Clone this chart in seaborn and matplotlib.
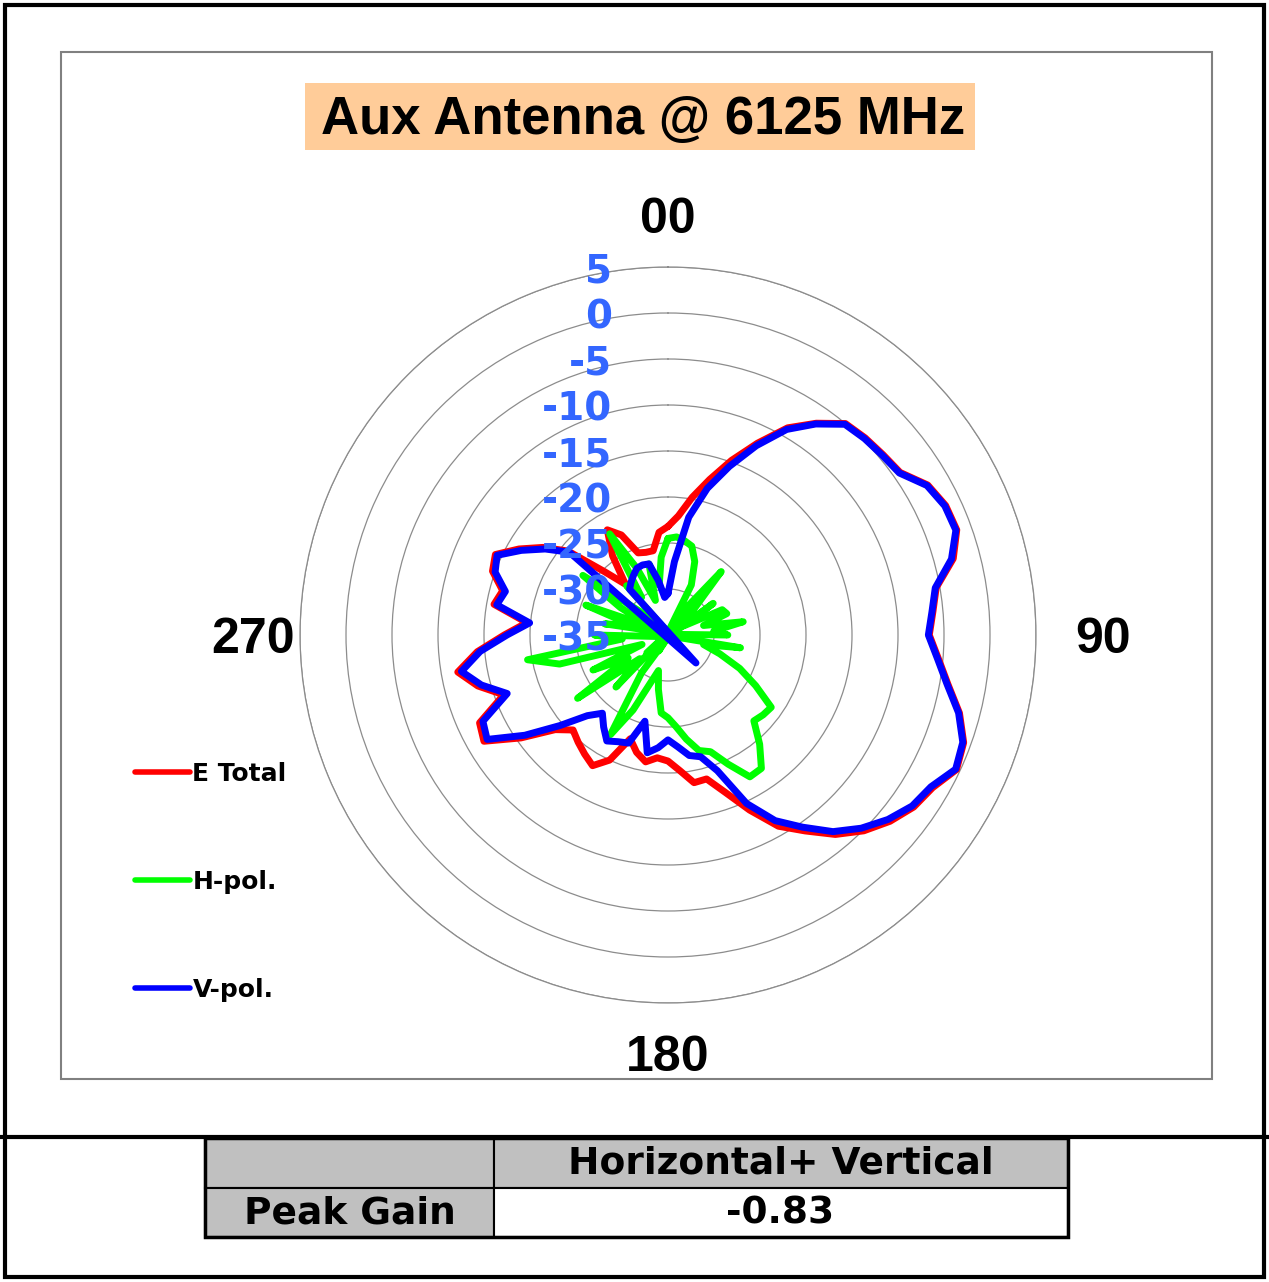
import numpy as np
import matplotlib
matplotlib.use("Agg")
import matplotlib.pyplot as plt
import seaborn as sns
from matplotlib.patches import Rectangle
from matplotlib.lines import Line2D

# -------------------------------
# data (dB, every 5 degrees, clockwise from top)
# -------------------------------
angles = list(range(0, 360, 5))

e_total = [-23.2, -22.0, -19.8, -17.5, -14.8, -12.0, -9.0, -6.9, -5.0, -4.7,
           -4.5, -4.2, -2.4, -1.7, -1.6, -2.9, -5.4, -6.1, -6.6, -5.5,
           -4.1, -2.2, -0.8, -0.4, -1.8, -2.4, -3.5, -4.9, -6.7, -9.0,
           -11.0, -14.0, -16.8, -18.8, -18.7, -20.2, -21.3, -21.6, -21.0, -21.8,
           -23.0, -20.0, -18.6, -19.2, -19.8, -20.4, -19.0, -15.5, -11.9, -12.4,
           -16.0, -13.6, -11.8, -14.2, -17.2, -19.6, -15.8, -16.4, -14.7, -14.3,
           -16.3, -18.4, -20.8, -25.3, -27.8, -24.5, -21.8, -23.0, -25.5, -25.7,
           -25.7, -23.8]

h_pol = [-24.5, -24.3, -24.6, -25.0, -26.5, -29.0, -37.0, -31.0, -26.0, -31.0,
         -38.0, -29.0, -33.0, -28.5, -28.2, -31.0, -26.7, -30.0, -28.5, -36.0,
         -27.0, -31.0, -29.0, -26.4, -24.0, -21.3, -21.5, -21.8, -19.5, -17.3,
         -17.2, -19.5, -21.5, -22.0, -23.5, -25.0, -26.0, -26.5, -29.0, -31.0,
         -29.5, -26.0, -22.5, -30.0, -37.0, -27.0, -31.0, -23.0, -30.0, -26.0,
         -32.0, -22.8, -19.5, -30.0, -27.0, -38.0, -28.0, -31.0, -25.5, -33.0,
         -29.0, -23.7, -31.0, -38.0, -28.0, -30.0, -22.3, -27.0, -31.0, -27.0,
         -29.5, -26.5]

v_pol = [-30.5, -27.0, -22.0, -18.5, -15.5, -12.3, -9.2, -7.0, -5.1, -4.8,
         -4.6, -4.3, -2.5, -1.8, -1.7, -3.1, -5.5, -6.2, -6.7, -5.6,
         -4.2, -2.3, -0.9, -0.5, -2.0, -2.6, -3.8, -5.3, -7.1, -9.5,
         -11.7, -14.8, -19.3, -21.3, -21.7, -22.8, -23.6, -22.7, -22.0, -25.3,
         -22.5, -22.2, -21.7, -22.8, -23.9, -22.6, -19.7, -16.0, -12.3, -12.8,
         -16.4, -14.0, -12.2, -14.5, -17.5, -19.9, -16.1, -16.7, -15.0, -14.5,
         -16.6, -18.7, -21.0, -39.3, -28.5, -28.0, -27.5, -27.0, -26.9, -27.0,
         -29.0, -30.9]

series_names = ["E Total", "H-pol.", "V-pol."]
series_colors = ["#FF0000", "#00FF00", "#0000FF"]

r_ticks = [5, 0, -5, -10, -15, -20, -25, -30, -35]
angle_ticks = [0, 90, 180, 270]
angle_labels = ["00", "90", "180", "270"]

title = "Aux Antenna @ 6125 MHz"
table_header = "Horizontal+ Vertical"
table_row = "Peak Gain"
peak_gain = "-0.83"

R_MIN, R_MAX = -35, 5

sns.set_theme(style="white")
plt.rcParams["font.family"] = ["DejaVu Sans"]
plt.rcParams["text.color"] = "black"

W, H = 1269, 1282
fig = plt.figure(figsize=(W / 100, H / 100), dpi=100)
fig.patch.set_facecolor("white")


def px(x, y):
    return x / W, 1 - y / H


def box(x0, y0, x1, y1, **kw):
    fig.add_artist(Rectangle(px(x0, y1), (x1 - x0) / W, (y1 - y0) / H,
                             transform=fig.transFigure, **kw))


def fold(ang, val):
    # excel radar: values under the axis minimum show up mirrored through the centre
    a = np.asarray(ang + [ang[0] + 360], float)
    v = np.asarray(val + [val[0]], float)
    low = v < R_MIN
    a = np.where(low, a + 180, a)
    v = np.where(low, 2 * R_MIN - v, v)
    return np.deg2rad(a), v


# -------------------------------
# frames
# -------------------------------
box(5, 5, 1264, 1277, facecolor="none", edgecolor="black", linewidth=3)
box(61, 52, 1212, 1079, facecolor="none", edgecolor="#808080", linewidth=1.5)
fig.add_artist(Line2D([0, 1], [px(0, 1137)[1]] * 2, transform=fig.transFigure,
                      color="black", linewidth=3))

# title
box(305, 83, 975, 150, facecolor="#FFCC99", edgecolor="none")
fig.text(*px(643, 120), title, ha="center", va="center", fontsize=38,
         fontweight="bold", family="Liberation Sans", color="black")

# -------------------------------
# polar chart
# -------------------------------
cx, cy, rad = 668, 635, 368
ax = fig.add_axes([(cx - rad) / W, 1 - (cy + rad) / H, 2 * rad / W, 2 * rad / H],
                  projection="polar")
ax.set_facecolor("none")
ax.set_theta_zero_location("N")
ax.set_theta_direction(-1)

for name, col, vals in zip(series_names, series_colors, [e_total, h_pol, v_pol]):
    th, r = fold(angles, vals)
    sns.lineplot(x=th, y=r, ax=ax, sort=False, estimator=None, color=col,
                 linewidth=5, label=name, solid_joinstyle="round")

ax.set_ylim(R_MIN, R_MAX)
ax.set_yticks(r_ticks)
ax.set_yticklabels([])
ax.set_xticks([])
ax.grid(True, axis="y", color="#8c8c8c", linewidth=0.9)
ax.spines["polar"].set_color("#8c8c8c")
ax.spines["polar"].set_linewidth(0.9)
ax.set_xlabel("")
ax.set_ylabel("")

for v in r_ticks:
    ax.annotate(str(v), xy=(0, v), xytext=(-40, -3), textcoords="offset points",
                ha="right", va="center", color="#3366FF", fontsize=28,
                fontweight="bold", annotation_clip=False, zorder=10)

for a, lab, rr in zip(angle_ticks, angle_labels, [10.6, 12.3, 10.4, 10.1]):
    ax.annotate(lab, xy=(np.deg2rad(a), rr), xytext=(0, -3.5),
                textcoords="offset points", ha="center", va="center",
                fontsize=36, fontweight="bold", family="Liberation Sans",
                color="black", annotation_clip=False)

leg = ax.legend(loc="upper left", bbox_to_anchor=px(135, 762),
                bbox_transform=fig.transFigure, frameon=False,
                prop={"weight": "bold", "size": 18}, handlelength=2.2,
                handletextpad=0.1, labelspacing=3.36, borderpad=0, borderaxespad=0)
for ln in leg.get_lines():
    ln.set_linewidth(4)
for t in leg.get_texts():
    t.set_color("black")

# -------------------------------
# peak gain table
# -------------------------------
box(205, 1138, 494, 1188, facecolor="#C0C0C0", edgecolor="black", linewidth=1.5)
box(494, 1138, 1068, 1188, facecolor="#C0C0C0", edgecolor="black", linewidth=1.5)
box(205, 1188, 494, 1237, facecolor="#C0C0C0", edgecolor="black", linewidth=1.5)
box(494, 1188, 1068, 1237, facecolor="white", edgecolor="black", linewidth=1.5)
box(205, 1138, 1068, 1237, facecolor="none", edgecolor="black", linewidth=2.5)

fig.text(*px(781, 1164), table_header, ha="center", va="center", fontsize=27,
         fontweight="bold", color="black")
fig.text(*px(350, 1214), table_row, ha="center", va="center", fontsize=27,
         fontweight="bold", color="black")
fig.text(*px(780, 1214), peak_gain, ha="center", va="center", fontsize=27,
         fontweight="bold", color="black")

fig.savefig("out.png", dpi=100)
